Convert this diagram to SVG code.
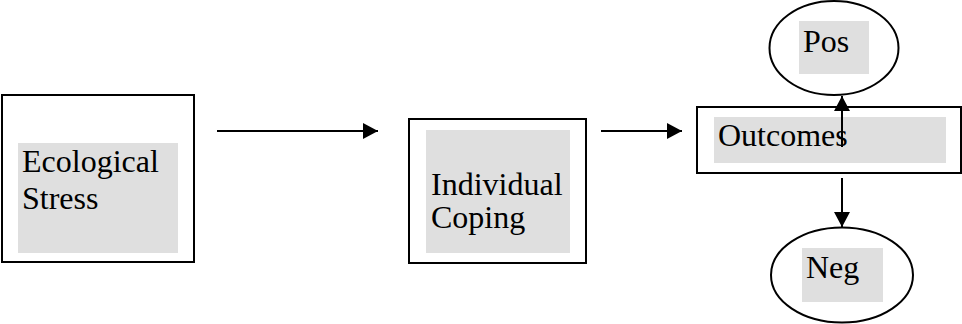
<svg xmlns="http://www.w3.org/2000/svg" width="962" height="324" viewBox="0 0 962 324">
<style>
.box{fill:#fff;stroke:#000;stroke-width:2}
.shade{fill:#dfdfdf}
.lbl{font-family:'Liberation Serif','Times New Roman',serif;font-size:32px;fill:#000}
.conn{stroke:#000;stroke-width:2;fill:none}
</style>
<defs>
<marker id="ah" markerWidth="15" markerHeight="16" refX="15" refY="8" orient="auto" markerUnits="userSpaceOnUse">
<path d="M0,0 L15,8 L0,16 Z" fill="#000"/>
</marker>
</defs>
<g id="ecological-stress">
<rect class="box" x="2" y="95" width="192" height="167"/>
<rect class="shade" x="18" y="143" width="160" height="110"/>
<text class="lbl" x="22" y="172">Ecological</text>
<text class="lbl" x="22" y="209">Stress</text>
</g>
<g id="individual-coping">
<rect class="box" x="409" y="119" width="177" height="144"/>
<rect class="shade" x="426" y="130" width="144" height="123"/>
<text class="lbl" x="431" y="195">Individual</text>
<text class="lbl" x="431" y="228">Coping</text>
</g>
<g id="outcomes">
<rect class="box" x="697" y="107" width="264" height="66"/>
<rect class="shade" x="714" y="117" width="232" height="46"/>
<text class="lbl" x="718" y="146">Outcomes</text>
</g>
<g id="pos">
<ellipse class="box" cx="834" cy="48" rx="64.5" ry="47"/>
<rect class="shade" x="799" y="21" width="70" height="53"/>
<text class="lbl" x="803" y="52">Pos</text>
</g>
<g id="neg">
<ellipse class="box" cx="842" cy="275" rx="71" ry="47.5"/>
<rect class="shade" x="802" y="248" width="81" height="54"/>
<text class="lbl" x="806" y="278">Neg</text>
</g>
<g id="connectors">
<line class="conn" x1="217" y1="131" x2="378" y2="131" marker-end="url(#ah)"/>
<line class="conn" x1="601" y1="131" x2="682" y2="131" marker-end="url(#ah)"/>
<line class="conn" x1="842" y1="147" x2="842" y2="96" marker-end="url(#ah)"/>
<line class="conn" x1="842" y1="178" x2="842" y2="227" marker-end="url(#ah)"/>
</g>
</svg>
